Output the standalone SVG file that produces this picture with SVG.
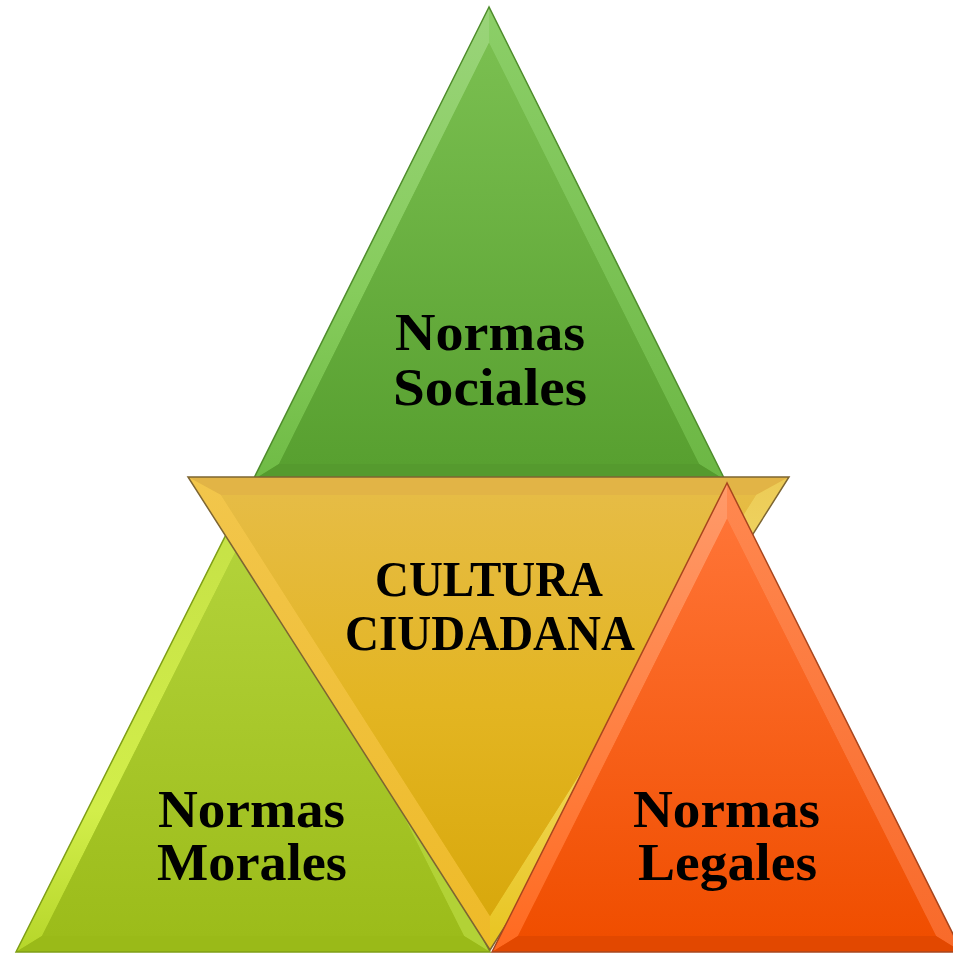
<svg xmlns="http://www.w3.org/2000/svg" width="953" height="955" viewBox="0 0 953 955">
<defs>
  <linearGradient id="gGreen" x1="0" y1="0" x2="0" y2="1">
    <stop offset="0" stop-color="#7abf50"/>
    <stop offset="1" stop-color="#58a030"/>
  </linearGradient>
  <linearGradient id="gGreenL" x1="0" y1="0" x2="0" y2="1">
    <stop offset="0" stop-color="#9ad47a"/>
    <stop offset="0.6" stop-color="#86cc5c"/>
    <stop offset="1" stop-color="#6fbb45"/>
  </linearGradient>
  <linearGradient id="gGreenR" x1="0" y1="0" x2="0" y2="1">
    <stop offset="0" stop-color="#8ccf68"/>
    <stop offset="1" stop-color="#6cb744"/>
  </linearGradient>
  <linearGradient id="gLime" x1="0" y1="0" x2="0" y2="1">
    <stop offset="0" stop-color="#b4d43c"/>
    <stop offset="1" stop-color="#9cbc1a"/>
  </linearGradient>
  <linearGradient id="gLimeL" x1="0" y1="0" x2="0" y2="1">
    <stop offset="0" stop-color="#c4e046"/>
    <stop offset="0.7" stop-color="#d2ee4a"/>
    <stop offset="1" stop-color="#b6d62a"/>
  </linearGradient>
  <linearGradient id="gYellow" x1="0" y1="0" x2="0" y2="1">
    <stop offset="0" stop-color="#e6bc45"/>
    <stop offset="0.5" stop-color="#e3b522"/>
    <stop offset="1" stop-color="#d8a80c"/>
  </linearGradient>
  <linearGradient id="gYellowL" x1="0" y1="0" x2="0" y2="1">
    <stop offset="0" stop-color="#f2c64c"/>
    <stop offset="1" stop-color="#eeba28"/>
  </linearGradient>
  <linearGradient id="gYellowR" x1="0" y1="0" x2="0" y2="1">
    <stop offset="0" stop-color="#eccb56"/>
    <stop offset="0.4" stop-color="#f4e070"/>
    <stop offset="1" stop-color="#e8c420"/>
  </linearGradient>
  <linearGradient id="gOrange" x1="0" y1="0" x2="0" y2="1">
    <stop offset="0" stop-color="#ff7436"/>
    <stop offset="1" stop-color="#f04e00"/>
  </linearGradient>
  <linearGradient id="gOrangeL" x1="0" y1="0" x2="0" y2="1">
    <stop offset="0" stop-color="#ff9a6a"/>
    <stop offset="1" stop-color="#ff6a20"/>
  </linearGradient>
  <linearGradient id="gOrangeR" x1="0" y1="0" x2="0" y2="1">
    <stop offset="0" stop-color="#ff8850"/>
    <stop offset="1" stop-color="#f86a2a"/>
  </linearGradient>
</defs>
<style>
  .lbl { font-family: "Liberation Serif", "DejaVu Serif", serif; font-weight: bold; font-size: 53px; fill: #000; text-anchor: middle; }
  .lbl2 { font-size: 51px; }
  .edge { fill: none; stroke-width: 1.5; stroke-linejoin: miter; }
</style>

<g id="node-sociales">
  <polygon points="489,7 253,480 725,480" fill="url(#gGreen)"/>
  <polygon points="489,7 253,480 279,464 489,43" fill="url(#gGreenL)"/>
  <polygon points="489,7 725,480 699,464 489,43" fill="url(#gGreenR)"/>
  <polygon points="253,480 725,480 699,464 279,464" fill="#559a2e"/>
  <polygon points="489,43 279,464 699,464" fill="url(#gGreen)"/>
  <polygon points="489,7 253,480 725,480" class="edge" stroke="#4f8d2c"/>
  <text class="lbl" x="490" y="350" textLength="190" lengthAdjust="spacingAndGlyphs">Normas</text>
  <text class="lbl" x="490" y="405" textLength="194" lengthAdjust="spacingAndGlyphs">Sociales</text>
</g>

<g id="node-morales">
  <polygon points="253,481 16,952 490,952" fill="url(#gLime)"/>
  <polygon points="253,481 16,952 42,936 253,517" fill="url(#gLimeL)"/>
  <polygon points="253,481 490,952 464,936 253,517" fill="#b2d236"/>
  <polygon points="16,952 490,952 464,936 42,936" fill="#9aba18"/>
  <polygon points="253,517 42,936 464,936" fill="url(#gLime)"/>
  <polygon points="253,481 16,952 490,952" class="edge" stroke="#7f9f16"/>
  <text class="lbl" x="251.5" y="827" textLength="187" lengthAdjust="spacingAndGlyphs">Normas</text>
  <text class="lbl" x="252" y="880" textLength="190" lengthAdjust="spacingAndGlyphs">Morales</text>
</g>

<g id="node-cultura">
  <polygon points="188,477 789,477 490,950" fill="url(#gYellow)"/>
  <polygon points="188,477 789,477 756,495 221,495" fill="#e2b446"/>
  <polygon points="188,477 221,495 490,916 490,950" fill="url(#gYellowL)"/>
  <polygon points="789,477 756,495 490,916 490,950" fill="url(#gYellowR)"/>
  <polygon points="221,495 756,495 490,916" fill="url(#gYellow)"/>
  <polygon points="188,477 789,477 490,950" class="edge" stroke="#7d6532"/>
  <text class="lbl lbl2" x="489" y="596" textLength="228" lengthAdjust="spacingAndGlyphs">CULTURA</text>
  <text class="lbl lbl2" x="490" y="650" textLength="290" lengthAdjust="spacingAndGlyphs">CIUDADANA</text>
</g>

<g id="node-legales">
  <polygon points="727,483 492,952 962,952" fill="url(#gOrange)"/>
  <polygon points="727,483 492,952 518,936 727,519" fill="url(#gOrangeL)"/>
  <polygon points="727,483 962,952 936,936 727,519" fill="url(#gOrangeR)"/>
  <polygon points="492,952 962,952 936,936 518,936" fill="#e24800"/>
  <polygon points="727,519 518,936 936,936" fill="url(#gOrange)"/>
  <polygon points="727,483 492,952 962,952" class="edge" stroke="#a8461e"/>
  <text class="lbl" x="726.5" y="827" textLength="187" lengthAdjust="spacingAndGlyphs">Normas</text>
  <text class="lbl" x="727.5" y="880" textLength="179" lengthAdjust="spacingAndGlyphs">Legales</text>
</g>
</svg>
